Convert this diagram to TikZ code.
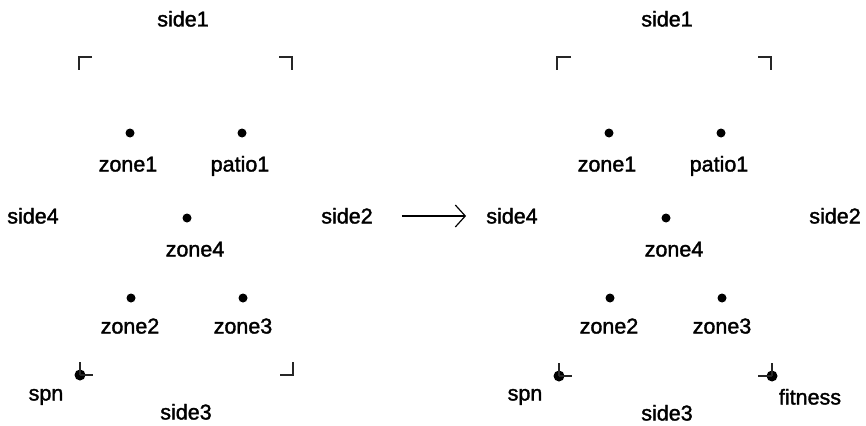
\documentclass[tikz,border=0pt]{standalone}
\usepackage{fontspec}
\setmainfont{Liberation Sans}
\newfontfamily\lblfont[FakeBold=1.6]{Liberation Sans}
\usetikzlibrary{arrows.meta}
\begin{document}
\begin{tikzpicture}[x=1pt,y=-1pt,
  lbl/.style={font=\lblfont\fontsize{21.5}{24}\selectfont, inner sep=0pt, text height=15pt, text depth=0pt},
  pt/.style={circle, fill=black, inner sep=0pt, minimum size=9pt},
  bigpt/.style={circle, fill=black, inner sep=0pt, minimum size=11pt},
  frameline/.style={line width=1.1pt, black!85},
  bigarrow/.style={line width=1.2pt, -{Straight Barb[length=10pt,width=22pt,line width=1.2pt]}}]
\useasboundingbox (0,0) rectangle (866,425);

% ---------- left diagram ----------
\node[lbl] (Lside1) at (183,19) {side1};
\coordinate (Ltl) at (79,57);
\coordinate (Ltr) at (292,57);
\coordinate (Lbr) at (293,375);
\draw[frameline] ([xshift=13pt]Ltl) -- (Ltl) -- ([yshift=-13pt]Ltl);
\draw[frameline] ([xshift=-13pt]Ltr) -- (Ltr) -- ([yshift=-13pt]Ltr);
\draw[frameline] ([xshift=-13pt]Lbr) -- (Lbr) -- ([yshift=13pt]Lbr);
\node[bigpt] (Lspndot) at (80,375) {};
\draw[frameline] (Lspndot.center) -- ++(0,-13);
\draw[frameline] (Lspndot.center) -- ++(13,0);

\node[pt] (Lz1) at (130,133) {};
\node[pt] (Lp1) at (242,133) {};
\node[pt] (Lz4) at (187,218) {};
\node[pt] (Lz2) at (131,298) {};
\node[pt] (Lz3) at (243,298) {};

\node[lbl] (Lzone1) at (128,164) {zone1};
\node[lbl] (Lpatio1) at (240,164) {patio1};
\node[lbl] (Lzone4) at (195,249) {zone4};
\node[lbl] (Lside4) at (33,216) {side4};
\node[lbl] (Lside2) at (347,216) {side2};
\node[lbl] (Lzone2) at (130,326) {zone2};
\node[lbl] (Lzone3) at (243,326) {zone3};
\node[lbl] (Lspn) at (46,393) {spn};
\node[lbl] (Lside3) at (186,412) {side3};

% ---------- arrow ----------
\node[lbl] (Rside4) at (512,216) {side4};
\draw[bigarrow, shorten <=29pt, shorten >=20pt] (Lside2.east) -- (Rside4.west);

% ---------- right diagram ----------
\node[lbl] (Rside1) at (667,19) {side1};
\coordinate (Rtl) at (557,57);
\coordinate (Rtr) at (771,57);
\draw[frameline] ([xshift=14pt]Rtl) -- (Rtl) -- ([yshift=-13pt]Rtl);
\draw[frameline] ([xshift=-13pt]Rtr) -- (Rtr) -- ([yshift=-13pt]Rtr);
\node[bigpt] (Rspndot) at (559,376) {};
\draw[frameline] (Rspndot.center) -- ++(0,-13);
\draw[frameline] (Rspndot.center) -- ++(13,0);
\node[bigpt] (Rfitdot) at (772,376) {};
\draw[frameline] (Rfitdot.center) -- ++(0,-13);
\draw[frameline] (Rfitdot.center) -- ++(-14,0);

\node[pt] (Rz1) at (609,133) {};
\node[pt] (Rp1) at (721,133) {};
\node[pt] (Rz4) at (666,218) {};
\node[pt] (Rz2) at (610,298) {};
\node[pt] (Rz3) at (722,298) {};

\node[lbl] (Rzone1) at (607,164) {zone1};
\node[lbl] (Rpatio1) at (719,164) {patio1};
\node[lbl] (Rzone4) at (674,249) {zone4};
\node[lbl] (Rside2) at (835,216) {side2};
\node[lbl] (Rzone2) at (609,326) {zone2};
\node[lbl] (Rzone3) at (722,326) {zone3};
\node[lbl] (Rspn) at (525,393) {spn};
\node[lbl] (Rside3) at (667,413) {side3};
\node[lbl] (Rfitness) at (810,397) {fitness};
\end{tikzpicture}
\end{document}
